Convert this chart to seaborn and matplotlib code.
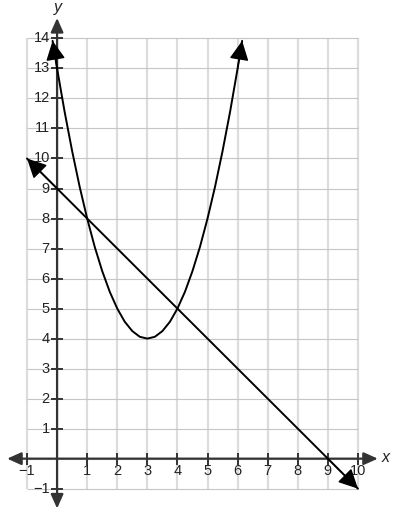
import pandas as pd
import seaborn as sns
import matplotlib.pyplot as plt

curve_x = [-0.15, 0, 0.25, 0.5, 0.75, 1, 1.25, 1.5, 1.75, 2, 2.25, 2.5, 2.75, 3,
           3.25, 3.5, 3.75, 4, 4.25, 4.5, 4.75, 5, 5.25, 5.5, 5.75, 6, 6.15]
curve_y = [13.92, 13, 11.56, 10.25, 9.06, 8, 7.06, 6.25, 5.56, 5, 4.56, 4.25, 4.06, 4,
           4.06, 4.25, 4.56, 5, 5.56, 6.25, 7.06, 8, 9.06, 10.25, 11.56, 13, 13.92]

# straight line through (-1, 10) and (10, -1)
line_x = [-1, 10]
line_y = [10, -1]

x_ticks = [-1, 1, 2, 3, 4, 5, 6, 7, 8, 9, 10]
y_ticks = [-1, 1, 2, 3, 4, 5, 6, 7, 8, 9, 10, 11, 12, 13, 14]
grid_x = list(range(-1, 11))
grid_y = list(range(-1, 15))

sns.set_style("white")
plt.rcParams['font.family'] = ['Liberation Sans', 'DejaVu Sans']

fig = plt.figure(figsize=(3.97, 5.12), dpi=100)
ax = fig.add_axes([0, 0, 1, 1])
ax.set_xlim(-1.897, 11.297)
ax.set_ylim(-1.777, 15.28)
ax.axis("off")

# grid
ax.vlines(grid_x, -1, 14, color="#dcdcdc", lw=1.6, zorder=0)
ax.hlines(grid_y, -1, 10, color="#c6c6c6", lw=0.8, zorder=0.5)

# axes with arrows on both ends
axis_arrow = dict(arrowstyle="<|-|>,head_length=0.85,head_width=0.38", color="#333333",
                  lw=1.6, shrinkA=0, shrinkB=0, mutation_scale=10)
ax.annotate("", xy=(10.66, 0), xytext=(-1.66, 0), arrowprops=axis_arrow, zorder=2)
ax.annotate("", xy=(0, 14.68), xytext=(0, -1.66), arrowprops=axis_arrow, zorder=2)

# tick marks
ax.plot(x_ticks, [0] * len(x_ticks), ls="none", marker="|", ms=8, mew=1.4, color="#333333", zorder=2)
ax.plot([0] * len(y_ticks), y_ticks, ls="none", marker="_", ms=8, mew=1.4, color="#333333", zorder=2)

for t in x_ticks:
    ax.text(t, -0.42, str(t).replace("-", "\u2212"), ha="center", va="center", fontsize=10.5, color="#222222")
for t in y_ticks:
    ax.text(-0.24, t, str(t).replace("-", "\u2212"), ha="right", va="center", fontsize=10.5, color="#222222")

ax.text(10.92, 0.05, "x", fontsize=11.5, style="italic", ha="center", va="center", color="#222222")
ax.text(0.02, 15.02, "y", fontsize=11.5, style="italic", ha="center", va="center", color="#222222")

# the two graphs
sns.lineplot(x=curve_x, y=curve_y, ax=ax, color="black", lw=1.4, sort=False, estimator=None, zorder=3)
sns.lineplot(x=line_x, y=line_y, ax=ax, color="black", lw=1.4, sort=False, estimator=None, zorder=3)

head = dict(arrowstyle="-|>,head_length=1.0,head_width=0.5", color="black", lw=1,
            shrinkA=0, shrinkB=0, mutation_scale=12)
ax.annotate("", xy=(curve_x[0], curve_y[0]), xytext=(curve_x[1], curve_y[1]), arrowprops=head, zorder=4)
ax.annotate("", xy=(curve_x[-1], curve_y[-1]), xytext=(curve_x[-2], curve_y[-2]), arrowprops=head, zorder=4)
ax.annotate("", xy=(line_x[0], line_y[0]), xytext=(line_x[0] + 1, line_y[0] - 1), arrowprops=head, zorder=4)
ax.annotate("", xy=(line_x[-1], line_y[-1]), xytext=(line_x[-1] - 1, line_y[-1] + 1), arrowprops=head, zorder=4)

fig.savefig("out.png", dpi=100)
